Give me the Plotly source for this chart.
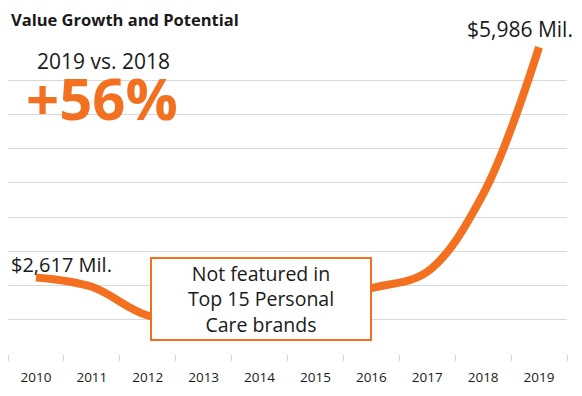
import plotly.graph_objects as go

years = ["2010", "2011", "2012", "2013", "2014", "2015", "2016", "2017", "2018", "2019"]
values = [2617, 2480, 2060, 2000, 2060, 2250, 2460, 2700, 3837, 5986]
y_ticks = [1500, 2000, 2500, 3000, 3500, 4000, 4500, 5000, 5500, 6000]

ORANGE = "#F37021"
DARK = "#1a1a1a"
FONT = "Open Sans"

fig = go.Figure()
fig.add_trace(go.Scatter(
    x=years, y=values, mode="lines",
    line=dict(color=ORANGE, width=8, shape="spline", smoothing=1.0),
    hoverinfo="skip", cliponaxis=False,
))

fig.update_layout(
    width=566, height=380,
    margin=dict(l=0, r=7, t=38, b=34),
    paper_bgcolor="white", plot_bgcolor="white",
    showlegend=False,
    font=dict(family=FONT, color=DARK),
    xaxis=dict(
        type="category", range=[-0.5, 9.5], tickson="boundaries",
        ticks="outside", ticklen=6, tickcolor="#d4d4d4", tickwidth=1,
        ticklabelstandoff=13,
        showgrid=False, showline=False, zeroline=False,
        tickfont=dict(size=13.5, color=DARK, family=FONT),
    ),
    yaxis=dict(
        range=[1497, 6003], tickvals=y_ticks, showticklabels=False,
        showgrid=True, gridcolor="#d9d9d9", gridwidth=1, zeroline=False,
        showline=False,
    ),
    annotations=[
        dict(text="<b>Value Growth and Potential</b>", xref="paper", yref="paper",
             x=0.002, y=1.0, yshift=27, xanchor="left", yanchor="middle",
             showarrow=False, font=dict(size=16.5, color=DARK, family=FONT)),
        dict(text="2019 vs. 2018", xref="paper", yref="paper",
             x=0.049, y=0.951, xanchor="left", yanchor="middle",
             showarrow=False, font=dict(size=21, color=DARK, family=FONT)),
        dict(text="<b>+56%</b>", xref="paper", yref="paper",
             x=0.028, y=0.833, xanchor="left", yanchor="middle",
             showarrow=False, font=dict(size=58, color=ORANGE, family=FONT)),
        dict(text="$2,617 Mil.", x=0, y=values[0],
             xanchor="left", yanchor="middle", xshift=-27, yshift=13,
             showarrow=False, font=dict(size=20, color=DARK, family=FONT)),
        dict(text="$5,986 Mil.", x=len(years) - 1, y=values[-1],
             xanchor="right", yanchor="middle", xshift=36, yshift=18,
             showarrow=False, font=dict(size=21, color=DARK, family=FONT)),
        dict(text="Not featured in<br>Top 15 Personal<br>Care brands",
             xref="paper", yref="paper", x=0.4526, y=0.18,
             xanchor="center", yanchor="middle", showarrow=False,
             width=218, height=80, bgcolor="white",
             bordercolor=ORANGE, borderwidth=2, borderpad=0,
             font=dict(size=19.5, color=DARK, family=FONT)),
    ],
)

fig.write_html("out.html")
